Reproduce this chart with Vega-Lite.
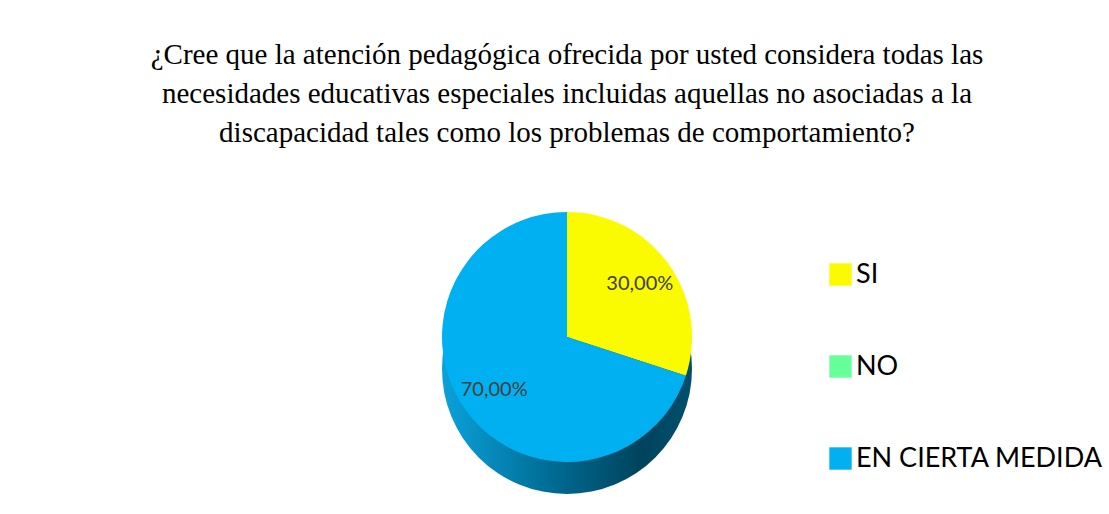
{
  "$schema": "https://vega.github.io/schema/vega-lite/v6.json",
  "width": 1084,
  "height": 354,
  "autosize": {"type": "none"},
  "padding": {"left": 25, "top": 160, "right": 0, "bottom": 0},
  "background": "white",
  "config": {"view": {"stroke": null}},
  "title": {
    "text": [
      "¿Cree que la atención pedagógica ofrecida por usted considera todas las",
      "necesidades educativas especiales incluidas aquellas no asociadas a la",
      "discapacidad tales  como los problemas de comportamiento?"
    ],
    "font": "Liberation Serif",
    "fontSize": 29,
    "fontWeight": "normal",
    "color": "#000000",
    "lineHeight": 39,
    "anchor": "middle",
    "offset": 12
  },
  "data": {
    "values": [
      {"respuesta": "SI", "valor": 30, "orden": 1, "etiqueta": "30,00%"},
      {"respuesta": "NO", "valor": 0, "orden": 2, "etiqueta": ""},
      {"respuesta": "EN CIERTA MEDIDA", "valor": 70, "orden": 3, "etiqueta": "70,00%"}
    ]
  },
  "layer": [
    {
      "transform": [{"aggregate": [{"op": "sum", "field": "valor", "as": "total"}]}],
      "mark": {
        "type": "arc",
        "outerRadius": 125,
        "yOffset": 32,
        "fill": {
          "gradient": "linear",
          "x1": 0, "y1": 0, "x2": 1, "y2": 0,
          "stops": [
            {"offset": 0, "color": "#0aa2da"},
            {"offset": 0.45, "color": "#006a92"},
            {"offset": 0.8, "color": "#00435c"},
            {"offset": 1, "color": "#00506e"}
          ]
        }
      },
      "encoding": {"theta": {"field": "total", "type": "quantitative"}}
    },
    {
      "mark": {"type": "arc", "outerRadius": 125},
      "encoding": {
        "theta": {"field": "valor", "type": "quantitative", "stack": true},
        "order": {"field": "orden", "type": "quantitative"},
        "color": {
          "field": "respuesta",
          "type": "nominal",
          "scale": {
            "domain": ["SI", "NO", "EN CIERTA MEDIDA"],
            "range": ["#FAFA00", "#66FF99", "#00B0F0"]
          },
          "legend": {
            "title": null,
            "orient": "none",
            "legendX": 802,
            "legendY": 101,
            "symbolType": "square",
            "symbolSize": 500,
            "symbolStrokeWidth": 0,
            "labelFont": "Lato",
            "labelFontSize": 27,
            "labelColor": "#000000",
            "labelOffset": 2,
            "labelLimit": 400,
            "rowPadding": 64
          }
        }
      }
    },
    {
      "transform": [{"filter": "datum.valor > 0"}],
      "mark": {"type": "text", "radius": 90, "font": "Lato", "fontSize": 20, "color": "#404040"},
      "encoding": {
        "theta": {"field": "valor", "type": "quantitative", "stack": true},
        "order": {"field": "orden", "type": "quantitative"},
        "text": {"field": "etiqueta", "type": "nominal"}
      }
    }
  ]
}
